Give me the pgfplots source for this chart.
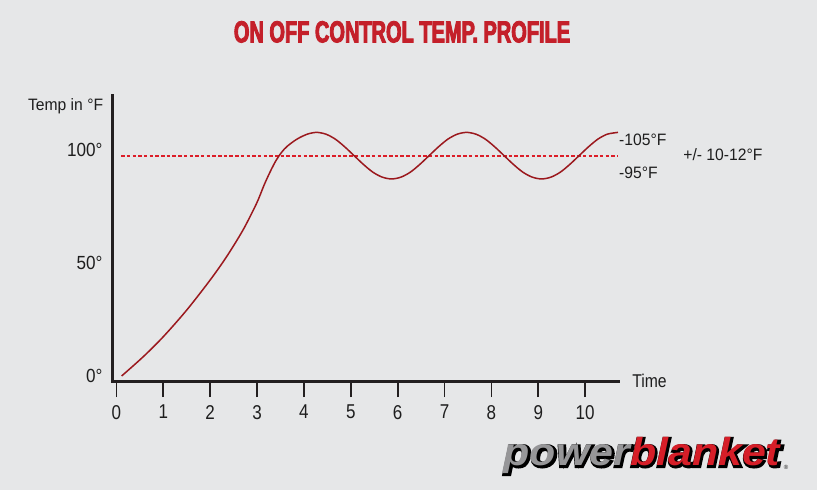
\documentclass[border=0pt]{standalone}
\usepackage{pgfplots}
\pgfplotsset{compat=1.18}
\usepackage{fontspec}
\setmainfont{Liberation Sans}
\newfontfamily\lab{Liberation Sans}[FakeStretch=0.85]
\newfontfamily\laby{Liberation Sans}[FakeStretch=0.9]
\newfontfamily\labn{Liberation Sans}[FakeStretch=0.95]
\newfontfamily\titlefont{Liberation Sans}[FakeStretch=0.66, FakeBold=3]
\newfontfamily\logofont{Liberation Sans}[FakeStretch=1.1]
\newfontfamily\logofontb{Liberation Sans}[FakeStretch=1.1, FakeBold=8]
\definecolor{bgc}{RGB}{230,231,232}
\definecolor{titlered}{RGB}{196,32,42}
\definecolor{curvec}{RGB}{155,25,30}
\definecolor{dashc}{RGB}{220,30,40}
\definecolor{axisc}{RGB}{35,31,32}
\definecolor{textc}{RGB}{30,30,30}
\definecolor{logogray}{RGB}{150,150,152}
\definecolor{logored}{RGB}{214,30,40}
\begin{document}
\begin{tikzpicture}
\fill[bgc] (0,0) rectangle (817bp,490bp);
\node[font=\titlefont\bfseries\fontsize{30.3bp}{32bp}\selectfont, text=titlered, inner sep=0pt] at (402bp,458.1bp) {ON OFF CONTROL TEMP. PROFILE};
\begin{axis}[
  scale only axis, width=505.3bp, height=286bp,
  anchor=south west, at={(112.7bp,108bp)},
  xmin=-0.08, xmax=10.7, ymin=-2.65, ymax=123.9,
  axis x line=bottom, axis y line=left,
  axis line style={-, line width=3bp, draw=axisc, line cap=rect},
  xtick={0,1,2,3,4,5,6,7,8,9,10},
  ytick={0,50,100}, yticklabels={0°,50°,100°},
  tick align=outside,
  major tick length=15bp,
  x tick style={line width=1.8bp, draw=axisc},
  y tick style={draw=none},
  xticklabel style={font=\lab\fontsize{20bp}{22bp}\selectfont, inner sep=0pt, yshift=-8bp, text=textc},
  yticklabel style={font=\laby\fontsize{19bp}{21bp}\selectfont, inner sep=0pt, xshift=5bp, text=textc},
  /pgf/number format/assume math mode=true,
  clip=false,
]
\addplot[dashc, line width=2bp, dash pattern=on 3.5bp off 2.2bp] coordinates {(0.1,97.5) (10.7,97.5)};
\addplot[curvec, line width=1.5bp, smooth] coordinates {
(0.11,0) (0.57,8.5) (1.0,17.4) (1.5,29.2) (2.0,42.5) (2.35,52.8) (2.7,64.6) (2.99,76.4) (3.15,84.5) (3.28,90.4)
(3.40,95.2) (3.52,98.9) (3.64,101.6) (3.85,104.8) (4.07,107.0) (4.27,107.8) (4.47,107.0) (4.67,104.8) (4.87,101.4)
(5.07,97.5) (5.27,93.6) (5.47,90.2) (5.67,88.0) (5.87,87.2) (6.07,88.0) (6.27,90.2) (6.47,93.6)
(6.67,97.5) (6.87,101.4) (7.07,104.8) (7.27,107.0) (7.47,107.8) (7.67,107.0) (7.87,104.8) (8.07,101.4)
(8.27,97.5) (8.47,93.6) (8.67,90.2) (8.87,88.0) (9.07,87.2) (9.27,88.0) (9.47,90.2) (9.67,93.6)
(9.87,97.5) (10.07,101.4) (10.27,104.8) (10.47,107.0) (10.7,107.8)
};
\node[anchor=west, font=\labn\fontsize{16.5bp}{19bp}\selectfont, inner sep=0pt, text=textc] at (axis cs:10.72,104.4) {-105°F};
\node[anchor=west, font=\labn\fontsize{16.5bp}{19bp}\selectfont, inner sep=0pt, text=textc] at (axis cs:10.72,89.7) {-95°F};
\node[anchor=west, font=\labn\fontsize{16.5bp}{19bp}\selectfont, inner sep=0pt, text=textc] at (axis cs:12.09,97.8) {+/- 10-12°F};
\node[anchor=west, font=\lab\fontsize{18.5bp}{21bp}\selectfont, inner sep=0pt, text=textc] at (axis cs:11.0,-2.1) {Time};
\node[anchor=base east, font=\labn\fontsize{16.5bp}{19bp}\selectfont, inner sep=0pt, text=textc] at (axis cs:-0.28,117.7) {Temp in °F};
\end{axis}
\node[font=\logofontb\bfseries\itshape\fontsize{39bp}{42bp}\selectfont, text=black, inner sep=0pt] at (643bp,33.5bp) {powerblanket};
\node[font=\logofont\bfseries\itshape\fontsize{39bp}{42bp}\selectfont, inner sep=0pt] at (642bp,34.5bp) {\textcolor{logogray}{power}\textcolor{logored}{blanket}};
\node[font=\fontsize{6bp}{7bp}\selectfont, text=textc, inner sep=0pt] at (786bp,23bp) {®};
\pgfresetboundingbox
\path[use as bounding box] (0,0) rectangle (817bp,490bp);
\end{tikzpicture}
\end{document}
